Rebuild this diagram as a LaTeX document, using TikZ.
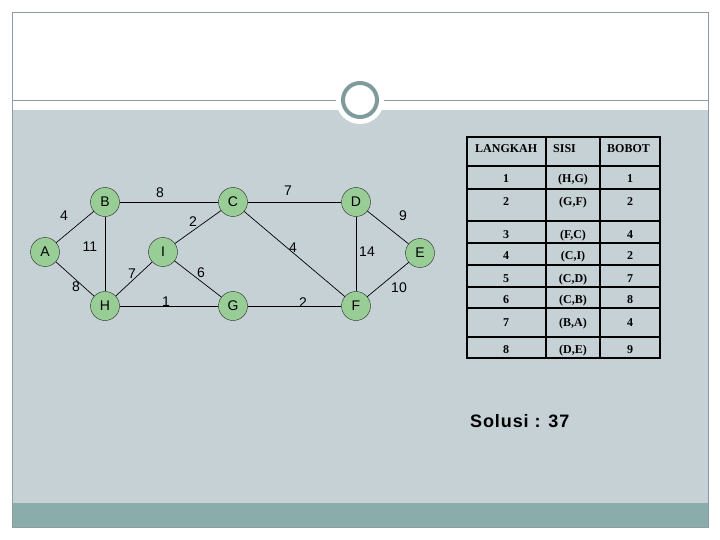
\documentclass[tikz,border=0pt]{standalone}
\usepackage{fontspec}
\setmainfont{Liberation Serif}
\setsansfont{Liberation Sans}
\usepackage{xcolor}
\usepackage{tikz}
\usetikzlibrary{calc}
\definecolor{slidegray}{RGB}{198,209,214}
\definecolor{bandteal}{RGB}{138,172,171}
\definecolor{framegray}{RGB}{142,158,160}
\definecolor{ringteal}{RGB}{127,155,155}
\definecolor{vertexgreen}{RGB}{152,206,150}
\newfontfamily\solusifont[LetterSpace=5]{Liberation Sans}

\begin{document}
\begin{tikzpicture}[
				x=1pt, y=-1pt,
				vertex/.style={circle, draw=black!85, fill=vertexgreen, minimum size=29pt,
					inner sep=0pt, font=\sffamily\fontsize{14}{14}\selectfont},
				link/.style={draw=black, line width=0.7pt},
				weight/.style={inner sep=0pt, font=\sffamily\fontsize{14}{14}\selectfont},
				head/.style={anchor=base west, inner sep=0pt, font=\bfseries\fontsize{12}{12}\selectfont},
				cell/.style={anchor=base, inner sep=0pt, font=\bfseries\fontsize{12}{12}\selectfont},
				tabline/.style={line width=1.6pt, black}
				]
				\useasboundingbox (0,0) rectangle (720,540);
				
				% Slide background
				\fill[white] (0,0) rectangle (720,540);
				\fill[slidegray] (12,110) rectangle (708,503);
				\fill[bandteal] (12,503) rectangle (708,527);
				\draw[framegray, line width=0.8pt] (12,12) rectangle (708,527);
				\draw[framegray, line width=0.8pt] (12,100) -- (708,100);
				\fill[white] (360,100) circle (24);
				\draw[ringteal, line width=4pt, fill=white] (360,100) circle (17);
				
				% Vertices
				\node[vertex] (A) at (45,252) {A};
				\node[vertex] (B) at (105,202) {B};
				\node[vertex] (C) at (233,202) {C};
				\node[vertex] (D) at (356,202) {D};
				\node[vertex] (E) at (420,253) {E};
				\node[vertex] (F) at (356,306) {F};
				\node[vertex] (G) at (233,306) {G};
				\node[vertex] (H) at (105,306) {H};
				\node[vertex] (I) at (163,252) {I};
				
				% Edges
				\draw[link] (A) -- (B);
				\draw[link] (A) -- (H);
				\draw[link] (B) -- (C);
				\draw[link] (B) -- (H);
				\draw[link] (C) -- (I);
				\draw[link] (C) -- (D);
				\draw[link] (C) -- (F);
				\draw[link] (H) -- (I);
				\draw[link] (H) -- (G);
				\draw[link] (I) -- (G);
				\draw[link] (G) -- (F);
				\draw[link] (D) -- (F);
				\draw[link] (D) -- (E);
				\draw[link] (E) -- (F);
				
				% Edge weights
				\node[weight] (wAB) at (64,216) {4};
				\node[weight] (wBC) at (160,193) {8};
				\node[weight] (wBH) at (90,247) {11};
				\node[weight] (wCI) at (193,222) {2};
				\node[weight] (wHI) at (132,274) {7};
				\node[weight] (wIG) at (201,273) {6};
				\node[weight] (wAH) at (76,287) {8};
				\node[weight] (wHG) at (166,302) {1};
				\node[weight] (wCD) at (288,191) {7};
				\node[weight] (wCF) at (293,248) {4};
				\node[weight] (wDF) at (367,252) {14};
				\node[weight] (wDE) at (403,216) {9};
				\node[weight] (wEF) at (399,288) {10};
				\node[weight] (wGF) at (303,303) {2};
				
				% Table grid
				\draw[tabline] (467,137) rectangle (660,358);
				\draw[tabline] (546,137) -- (546,358);
				\draw[tabline] (600,137) -- (600,358);
				\draw[tabline] (467,166) -- (660,166);
				\draw[tabline] (467,189) -- (660,189);
				\draw[tabline] (467,221) -- (660,221);
				\draw[tabline] (467,243) -- (660,243);
				\draw[tabline] (467,265) -- (660,265);
				\draw[tabline] (467,287) -- (660,287);
				\draw[tabline] (467,308) -- (660,308);
				\draw[tabline] (467,337) -- (660,337);
				
				% Table header
				\node[head] (hstep) at (475,153) {LANGKAH};
				\node[head] (hedge) at (553,153) {SISI};
				\node[head] (hweight) at (607,153) {BOBOT};
				
				% Table rows
				\node[cell] (n1) at (506,183) {1}; \node[cell] (s1) at (573,183) {(H,G)}; \node[cell] (b1) at (630,183) {1};
				\node[cell] (n2) at (506,206) {2}; \node[cell] (s2) at (573,206) {(G,F)}; \node[cell] (b2) at (630,206) {2};
				\node[cell] (n3) at (506,239) {3}; \node[cell] (s3) at (573,239) {(F,C)}; \node[cell] (b3) at (630,239) {4};
				\node[cell] (n4) at (506,259) {4}; \node[cell] (s4) at (573,259) {(C,I)}; \node[cell] (b4) at (630,259) {2};
				\node[cell] (n5) at (506,282) {5}; \node[cell] (s5) at (573,282) {(C,D)}; \node[cell] (b5) at (630,282) {7};
				\node[cell] (n6) at (506,303) {6}; \node[cell] (s6) at (573,303) {(C,B)}; \node[cell] (b6) at (630,303) {8};
				\node[cell] (n7) at (506,326) {7}; \node[cell] (s7) at (573,326) {(B,A)}; \node[cell] (b7) at (630,326) {4};
				\node[cell] (n8) at (506,353) {8}; \node[cell] (s8) at (573,353) {(D,E)}; \node[cell] (b8) at (630,353) {9};
				
				% Total weight
				\node[anchor=base west, inner sep=0pt, font=\solusifont\bfseries\fontsize{18}{18}\selectfont]
				(total) at (470,427) {Solusi : 37};
				
			\end{tikzpicture}
\end{document}
